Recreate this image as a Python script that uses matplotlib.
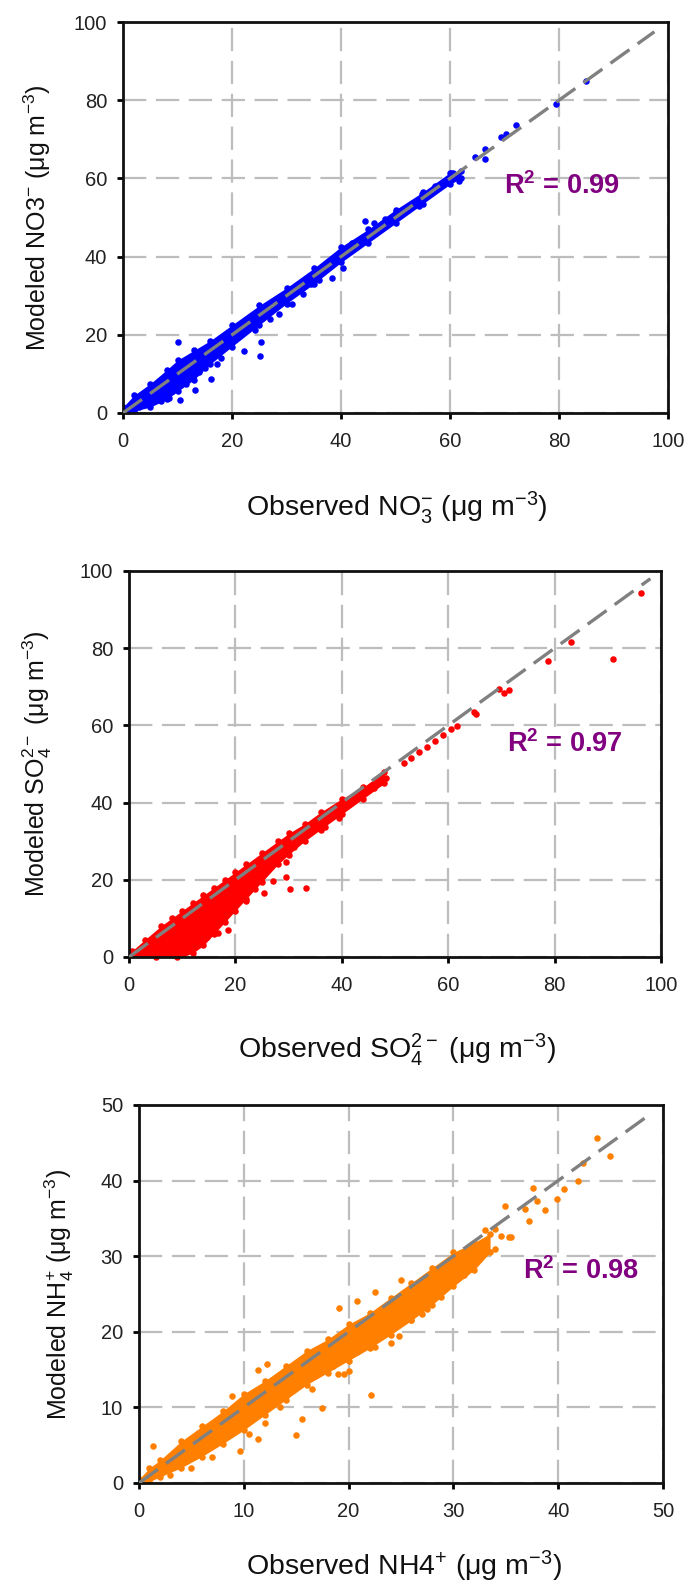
import matplotlib
matplotlib.use("Agg")
import matplotlib.pyplot as plt

plt.rcParams['font.family'] = ['Liberation Sans', 'DejaVu Sans']
plt.rcParams['mathtext.fontset'] = 'custom'
plt.rcParams['mathtext.rm'] = 'Liberation Sans'
plt.rcParams['mathtext.it'] = 'Liberation Sans:italic'
plt.rcParams['mathtext.bf'] = 'Liberation Sans:bold'

# ---------------- data ----------------
# NO3 panel: dense band envelope + individual points
no3_band_x = [0, 2, 5, 8, 10, 13, 16, 20, 25, 30, 35, 40, 45, 50, 55, 60, 62]
no3_band_hi = [1.5, 4.5, 7.5, 11, 13.5, 16, 18.5, 22.5, 27.5, 32, 37, 42.5, 47, 52, 56.5, 61.5, 62]
no3_band_lo = [0, 0.5, 1.5, 3.5, 5.5, 8.5, 12.5, 17, 22.5, 28, 33, 38.5, 43.5, 48.5, 53.5, 58.5, 60]
no3_obs = [85, 79.4, 72.2, 70.2, 69.4, 66.5, 64.5, 66.5, 61.7, 60.5, 54.4, 44.4, 46, 40.3,
           38.3, 31, 28.6, 24.2, 22.2, 25.4, 25.2, 10.1, 17.3, 16.1, 13.3, 10.5, 8.5, 12, 14,
           9, 7, 11.5, 15, 18, 55.5, 57, 58.5, 50, 48, 42, 36, 33, 34.5, 27, 20.5, 19, 6, 4,
           3, 2, 1, 54.8, 57.3, 58.9, 60.1]
no3_mod = [85, 79, 73.6, 71.4, 70.6, 67.5, 65.4, 65.0, 59.4, 61.5, 52.9, 49.0, 48.6, 37,
           34.4, 28, 25.4, 21.1, 15.9, 18.1, 14.6, 18.1, 12.5, 8.6, 6.0, 3.4, 3.9, 9, 10.5,
           5.5, 3, 7.5, 11.5, 14, 56, 57.5, 58.5, 51.5, 49.5, 43.5, 34, 30.5, 33, 24, 19, 18,
           3.5, 2.5, 1.5, 1, 0.5, 55.9, 58.1, 59, 61.5]

# SO4 panel
so4_band_x = [0.5, 3, 6, 8, 10, 12, 14, 16, 18, 20, 22, 25, 28, 30, 33, 36, 40, 44, 48]
so4_band_hi = [1.5, 4.5, 8, 10, 12, 14, 16, 18, 20, 22, 24, 27, 30, 32, 34.5, 37.5, 41, 44, 48]
so4_band_lo = [0, 0, 0, 0, 0, 1, 3, 6, 9, 12, 15, 19.5, 24, 26.5, 30, 33, 37, 41, 45]
so4_obs = [96.3, 83.1, 78.8, 90.9, 69.5, 71.5, 70.5, 64.9, 65.3, 61.6, 60.5, 59, 57.5, 56,
           54.5, 53, 51.7, 48.4, 47.5, 46, 43.5, 42.5, 39.4, 36.9, 33.2, 30.3, 29.5, 29.5,
           27, 25.3, 24.9, 22, 21.6, 23.7, 18.7, 16.7, 16.3, 14.6, 31, 26.5, 5, 9]
so4_mod = [94.2, 81.6, 76.8, 77.3, 69.5, 69.2, 68.3, 63.4, 63.0, 59.9, 59, 57.5, 56, 54.5,
           53, 51.5, 50.3, 46.4, 45.5, 43.7, 42.4, 41.5, 35.9, 33.7, 17.9, 17.5, 20.6, 24.5,
           19.7, 16.6, 19.7, 14.4, 15.7, 17.5, 7.0, 6.1, 10.9, 5.2, 28.5, 25, 0, 0]

# NH4 panel
nh4_band_x = [0, 1, 2, 4, 6, 8, 10, 12, 14, 16, 18, 20, 22, 24, 26, 28, 30, 32, 33.5]
nh4_band_hi = [0.5, 2, 3, 5.5, 7.5, 9.5, 11.8, 13.5, 15.5, 17.5, 19, 21, 22.5, 24.5, 26.5,
               28.5, 30.5, 31.8, 33]
nh4_band_lo = [0, 0.2, 0.8, 2.0, 3.5, 5.2, 7.0, 9.0, 11.0, 13.0, 14.6, 16.2, 17.8, 19.6, 21.5,
               23.6, 26.0, 28.2, 30.5]
nh4_obs = [43.7, 44.9, 42.4, 41.9, 40.6, 39.9, 37.6, 38, 38.7, 37.2, 34.9, 36.8, 34, 35.3,
           34.5, 1.3, 9.6, 11.4, 15, 15.6, 17.5, 22.1, 19.6, 20, 19, 20.8, 24.8, 27, 28.8,
           22.5, 20.8, 19.1, 25, 11.4, 12.2, 8.9, 26.5, 27.5, 29, 30.5, 31.5, 32.5, 35.5, 33,
           23.5, 24, 26, 27.5, 25.5, 21, 22.5, 18.5, 16.5, 13.5, 12, 10.5, 7, 5, 3, 29, 31,
           32, 34, 30.5]
nh4_mod = [45.6, 43.2, 42.3, 40.0, 38.9, 37.6, 39.0, 37.3, 36.1, 34.7, 36.7, 36.3, 33.6, 32.5,
           32.7, 4.9, 4.2, 5.8, 6.4, 8.5, 9.9, 11.6, 14.4, 14.8, 14.4, 17.3, 19.5, 22.3, 24.6,
           25.2, 24.1, 23.2, 26.8, 15, 15.7, 11.5, 23.5, 25, 27.5, 28.2, 29.5, 30.5, 32.5, 33.5,
           21, 18.5, 21.5, 23, 23.8, 19.5, 18, 15.5, 12.5, 10, 8, 6.5, 3.5, 2, 1, 25.5, 27.5,
           29, 31, 29.5]

r2_values = ["0.99", "0.97", "0.98"]

# ---------------- figure ----------------
fig = plt.figure(figsize=(6.89, 15.87), dpi=100)
W, H = 689, 1587

def axes_px(l, t, r, b):
    return fig.add_axes([l / W, 1 - b / H, (r - l) / W, (b - t) / H])

ax1 = axes_px(123, 22, 668, 413)
ax2 = axes_px(129, 571, 661, 957)
ax3 = axes_px(139, 1105, 663, 1483)

panels = [
    dict(ax=ax1, bx=no3_band_x, hi=no3_band_hi, lo=no3_band_lo, ox=no3_obs, oy=no3_mod,
         color='#0000FF', lim=100, step=20, r2=r2_values[0], r2pos=(80.5, 58.0),
         line_end=97.5,
         ylabel='Modeled NO3$^{-}$ (μg m$^{-3}$)',
         xlabel='Observed NO$_3^{-}$ (μg m$^{-3}$)',
         ylab=(-0.158, 0.5), xlab=(0.503, -0.262)),
    dict(ax=ax2, bx=so4_band_x, hi=so4_band_hi, lo=so4_band_lo, ox=so4_obs, oy=so4_mod,
         color='#FF0000', lim=100, step=20, r2=r2_values[1], r2pos=(82, 55.2),
         line_end=98,
         ylabel='Modeled SO$_4^{2-}$ (μg m$^{-3}$)',
         xlabel='Observed SO$_4^{2-}$ (μg m$^{-3}$)',
         ylab=(-0.172, 0.5), xlab=(0.504, -0.262)),
    dict(ax=ax3, bx=nh4_band_x, hi=nh4_band_hi, lo=nh4_band_lo, ox=nh4_obs, oy=nh4_mod,
         color='#FF8000', lim=50, step=10, r2=r2_values[2], r2pos=(42.2, 28.0),
         line_end=48.5,
         ylabel='Modeled NH$_4^{+}$ (μg m$^{-3}$)',
         xlabel='Observed NH4$^{+}$ (μg m$^{-3}$)',
         ylab=(-0.152, 0.5), xlab=(0.506, -0.243)),
]

for p in panels:
    ax = p['ax']
    ax.set_xlim(0, p['lim'])
    ax.set_ylim(0, p['lim'])
    ticks = list(range(0, p['lim'] + 1, p['step']))
    ax.set_xticks(ticks)
    ax.set_yticks(ticks)
    ax.set_axisbelow(True)
    ax.grid(True, color='#bdbdbd', linewidth=1.6, linestyle=(0, (10.5, 4.3)))
    for s in ax.spines.values():
        s.set_linewidth(2.0)
        s.set_color('#111111')
    ax.tick_params(direction='out', length=4.5, width=2, labelsize=14.5,
                   labelcolor='#222222')
    ax.tick_params(axis='y', pad=7)
    ax.tick_params(axis='x', pad=9)

    # dense band of points
    ax.fill_between(p['bx'], p['lo'], p['hi'], color=p['color'], linewidth=0, zorder=2)
    ax.scatter(p['bx'], p['hi'], s=22, color=p['color'], linewidths=0, zorder=2)
    ax.scatter(p['bx'], p['lo'], s=22, color=p['color'], linewidths=0, zorder=2)
    ax.scatter(p['ox'], p['oy'], s=22, color=p['color'], linewidths=0, zorder=2,
               clip_on=False)

    # 1:1 line
    ax.plot([0, p['line_end']], [0, p['line_end']], color='#808080', linewidth=2.4,
            linestyle=(0, (7, 3)), zorder=3)

    ax.text(p['r2pos'][0], p['r2pos'][1], 'R$^{\\mathbf{2}}$ = ' + p['r2'],
            color='#800080', fontsize=19.5, fontweight='bold', ha='center', va='center',
            zorder=4)

    ax.set_xlabel(p['xlabel'], fontsize=20.5, color='#111111')
    ax.set_ylabel(p['ylabel'], fontsize=18, color='#111111')
    ax.xaxis.set_label_coords(*p['xlab'])
    ax.xaxis.label.set_va('baseline')
    ax.yaxis.set_label_coords(*p['ylab'])
    ax.yaxis.label.set_va('center')

fig.savefig('out.png', dpi=100, facecolor='white')
